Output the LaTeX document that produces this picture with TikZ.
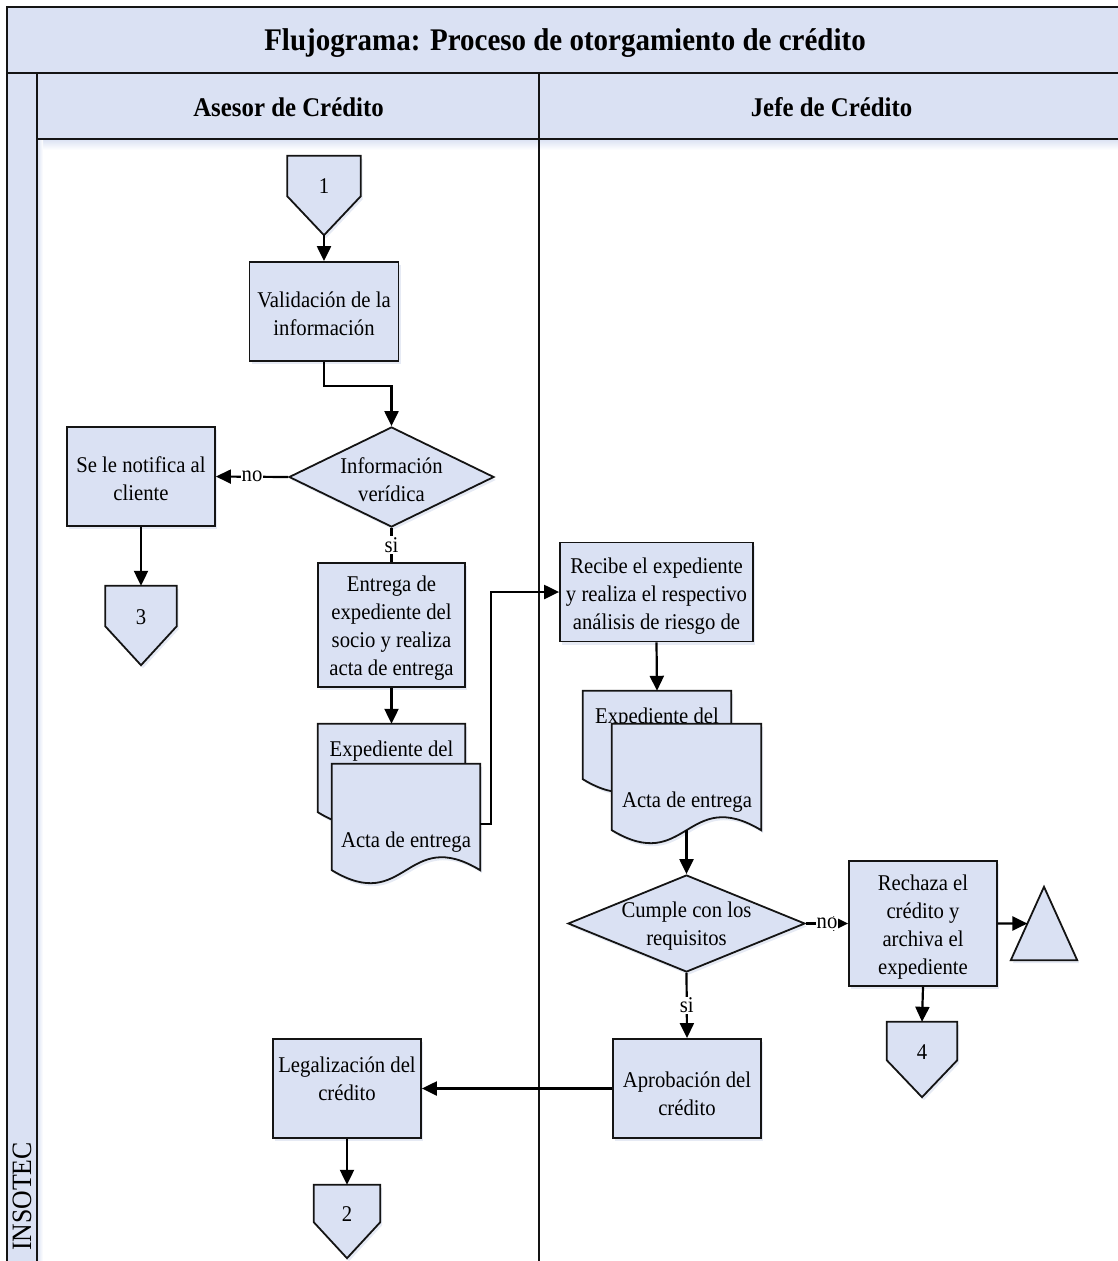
\documentclass[tikz,border=0pt]{standalone}
\usepackage{fontspec}
\setmainfont{Liberation Serif}[FakeStretch=0.92]
\usetikzlibrary{arrows.meta,shapes.geometric,shadows,calc}

\definecolor{lanefill}{RGB}{218,225,243}
\definecolor{edge}{RGB}{20,20,20}
\definecolor{shade}{RGB}{140,160,205}

\newcommand\bodyfont{\fontsize{22.5}{28}\selectfont}

\tikzset{
  flow/.style={draw=edge, line width=1.8pt, fill=lanefill,
    drop shadow={shadow xshift=2pt, shadow yshift=-3pt, opacity=0.22, fill=shade}},
  procbox/.style={flow, rectangle, inner sep=0pt},
  decision/.style={flow, diamond, inner sep=0pt},
  holder/.style={rectangle, inner sep=0pt},
  txt/.style={align=center, font=\bodyfont, inner sep=0pt, yshift=-2.5pt},
  numtxt/.style={font=\bodyfont, inner sep=0pt},
  link/.style={line width=2.2pt, draw=black, -{Triangle[length=15pt,width=14pt]}},
  plainlink/.style={line width=2.2pt, draw=black},
  tag/.style={font=\bodyfont, fill=white, inner sep=1pt},
  frameline/.style={line width=2pt, draw=edge},
  % document symbol with a wavy lower edge
  docpath/.style={insert path={
    (#1.north west) -- (#1.north east) -- (#1.south east)
    .. controls ($(#1.south)+(0,-45)$) and ($(#1.south)+(0,45)$) .. (#1.south west) -- cycle}},
  % off-page connector pointing down
  offpath/.style={insert path={
    (#1.north west) -- (#1.north east) -- ($(#1.north east)!0.51!(#1.south east)$)
    -- (#1.south) -- ($(#1.north west)!0.51!(#1.south west)$) -- cycle}},
}

\begin{document}
\begin{tikzpicture}[x=1pt,y=-1pt]
\useasboundingbox (0,0) rectangle (1118,1261);
\clip (0,0) rectangle (1118,1261);

% ---- pool frame ----
\fill[lanefill] (7,7) rectangle (1130,139);
\fill[lanefill] (7,73) rectangle (37,1270);
\shade[top color=lanefill, bottom color=white] (37,139) rectangle (1130,150);
\shade[left color=lanefill, right color=white] (37,139) rectangle (43,1270);
\draw[frameline] (7,1270) -- (7,7) -- (1130,7);
\draw[frameline] (7,73) -- (1130,73);
\draw[frameline] (37,139) -- (1130,139);
\draw[frameline] (37,73) -- (37,1270);
\draw[frameline] (539,73) -- (539,1270);

\node[font=\bfseries\fontsize{31.5}{36}\selectfont] (title) at (565,43)
  {Flujograma: Proceso de otorgamiento de crédito};
\node[font=\bfseries\fontsize{27}{32}\selectfont] (laneA) at (288.5,107) {Asesor de Crédito};
\node[font=\bfseries\fontsize{27}{32}\selectfont] (laneB) at (831.5,107) {Jefe de Crédito};
\node[font=\fontsize{28}{32}\selectfont, rotate=90, anchor=east, inner sep=0pt] (pool) at (22,1142) {INSOTEC};

% ---- Asesor de Crédito ----
\node[holder, minimum width=73, minimum height=79] (off1) at (324,195.5) {};
\draw[flow, offpath=off1];
\node[numtxt] at ($(off1.north)+(0,30)$) {1};

\node[procbox, minimum width=149, minimum height=99] (valid) at (324,311.5) {};
\node[txt] at (valid) {Validación de la\\información};

\node[decision, minimum width=205, minimum height=100] (dver) at (391.5,477) {};
\node[txt] at (dver) {Información\\verídica};

\node[procbox, minimum width=148, minimum height=99] (notif) at (141,476.5) {};
\node[txt] at (notif) {Se le notifica al\\cliente};

\node[holder, minimum width=71, minimum height=79] (off3) at (141,625.5) {};
\draw[flow, offpath=off3];
\node[numtxt] at ($(off3.north)+(0,31)$) {3};

\node[procbox, minimum width=147, minimum height=124] (entrega) at (391.5,625) {};
\node[txt] at ($(entrega)+(0,1)$) {Entrega de\\expediente del\\socio y realiza\\acta de entrega};

\node[holder, minimum width=147, minimum height=88] (expA) at (391.5,768) {};
\draw[flow, docpath=expA];
\node[txt] at (391.5,749) {Expediente del};
\node[holder, minimum width=148, minimum height=106] (actaA) at (406,817) {};
\draw[flow, docpath=actaA];
\node[txt] at (406,840) {Acta de entrega};

\node[procbox, minimum width=148, minimum height=99] (legal) at (347,1088.5) {};
\node[txt] at ($(legal.center)+(0,-12.5)$) {Legalización del\\crédito};

\node[holder, minimum width=66, minimum height=73] (off2) at (347,1221.5) {};
\draw[flow, offpath=off2];
\node[numtxt] at ($(off2.north)+(0,29)$) {2};

% ---- Jefe de Crédito ----
\node[procbox, minimum width=193, minimum height=99] (recibe) at (656.5,592) {};
\node[txt] at ($(recibe)+(0,2)$) {Recibe el expediente\\y realiza el respectivo\\análisis de riesgo de};

\node[holder, minimum width=148, minimum height=88] (expB) at (657,735) {};
\draw[flow, docpath=expB];
\node[txt] at (657,716) {Expediente del};
\node[holder, minimum width=149, minimum height=106] (actaB) at (686.5,777) {};
\draw[flow, docpath=actaB];
\node[txt] at (687,800) {Acta de entrega};

\node[decision, minimum width=237, minimum height=97] (dcum) at (686.5,923.5) {};
\node[txt] at (dcum) {Cumple con los\\requisitos};

\node[procbox, minimum width=148, minimum height=125] (rech) at (923,923.5) {};
\node[txt] at ($(rech)+(0,1.5)$) {Rechaza el\\crédito y\\archiva el\\expediente};

\node[holder, minimum width=66, minimum height=73] (term) at (1044,923.5) {};
\draw[flow] (term.south west) -- (term.north) -- (term.south east) -- cycle;

\node[holder, minimum width=70, minimum height=75] (off4) at (922,1059.5) {};
\draw[flow, offpath=off4];
\node[numtxt] at ($(off4.north)+(0,30)$) {4};

\node[procbox, minimum width=148, minimum height=99] (aprob) at (687,1088.5) {};
\node[txt] at ($(aprob)+(0,2.5)$) {Aprobación del\\crédito};

% ---- connectors ----
\draw[link] (off1.south) -- (valid.north);
\draw[link] (valid.south) -- ++(0,24) -| (dver.north);
\draw[link] (dver.west) -- node[tag] {no} (notif.east);
\draw[link] (notif.south) -- (off3.north);
\draw[plainlink] (dver.south) -- node[tag] {si} (entrega.north);
\draw[link] (entrega.south) -- (expA.north);
\draw[link] ($(actaA.east)+(0,7)$) -- ++(11,0) |- (recibe.west);
\draw[link] (recibe.south) -- (expB.north);
\draw[link] (actaB.south) -- (dcum.north);
\draw[link] (dcum.east) -- node[tag] {no} (rech.west);
\draw[link] (rech.east) -- ($(term.south west)!0.5!(term.north)$);
\draw[link] (rech.south) -- (off4.north);
\draw[link] (dcum.south) -- node[tag] {si} (aprob.north);
\draw[link] (aprob.west) -- (legal.east);
\draw[link] (legal.south) -- (off2.north);
\end{tikzpicture}
\end{document}
